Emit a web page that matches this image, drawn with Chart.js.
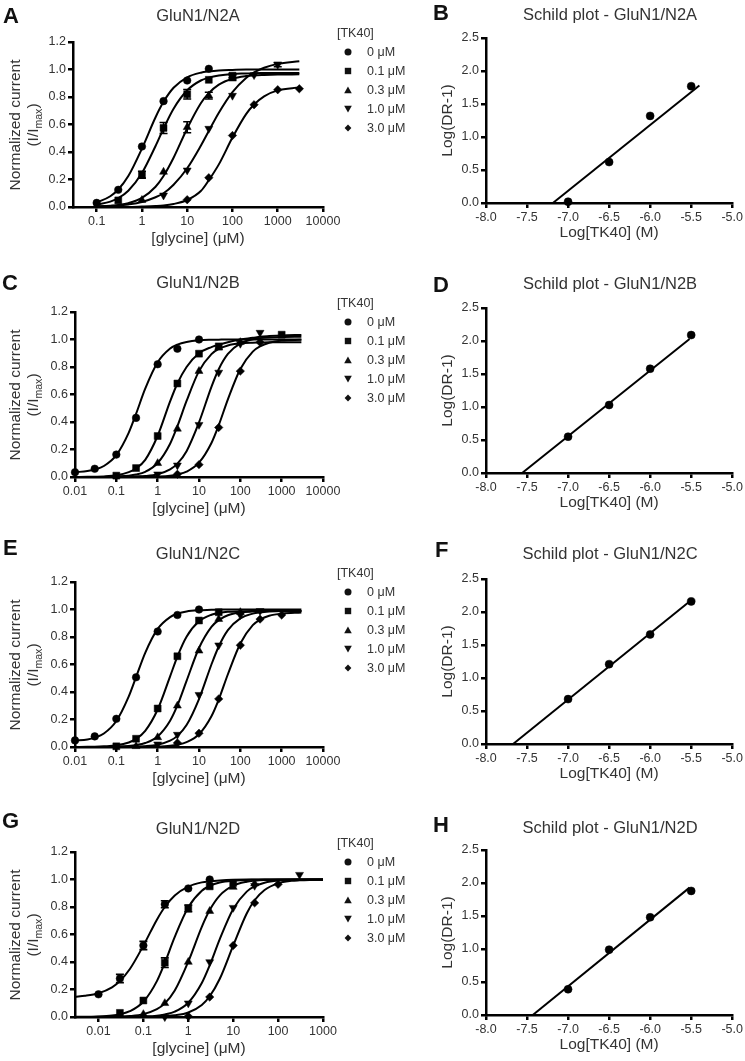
<!DOCTYPE html>
<html>
<head>
<meta charset="utf-8">
<script src="https://cdn.jsdelivr.net/npm/chart.js@4.4.1/dist/chart.umd.min.js"></script>
<style>
  body { margin: 0; background: #fff; }
  #fig { position: relative; width: 745px; height: 1061px; overflow: hidden;
         font-family: "Liberation Sans", Arial, Helvetica, sans-serif; color: #333; background: #fff; }
  #fig canvas { position: absolute; }
  .abs { position: absolute; white-space: nowrap; }
  .letter { font-weight: bold; font-size: 22px; line-height: 22px; color: #111; }
  .ptitle { font-size: 16.5px; line-height: 20px; text-align: center; width: 260px; }
  .ytitle { font-size: 15.5px; line-height: 18px; text-align: center; width: 170px; height: 36px;
            transform: rotate(-90deg); }
  .ytitle sub { font-size: 10.5px; vertical-align: -4px; line-height: 0; }
  .legend { font-size: 12.5px; line-height: 19px; }
  .legend .row { position: relative; height: 19px; }
  .legend svg { position: absolute; left: 7px; top: 5px; }
  .legend .lab { position: absolute; left: 30px; top: 0; }
</style>
</head>
<body>
<div id="fig"></div>
<script>
/*
 * TK40 vs glycine: concentration-response curves (A,C,E,G) and Schild plots (B,D,F,H).
 * Curve and point values.
 */
(function () {
  "use strict";

  // ---- shared labels / ticks ----
  var concLabels = ["0 μM", "0.1 μM", "0.3 μM", "1.0 μM", "3.0 μM"];
  var currentTicks = [0, 0.2, 0.4, 0.6, 0.8, 1.0, 1.2];
  var currentLabels = ["0.0", "0.2", "0.4", "0.6", "0.8", "1.0", "1.2"];
  var glyTicks4 = [0.1, 1, 10, 100, 1000, 10000];
  var glyLabels4 = ["0.1", "1", "10", "100", "1000", "10000"];
  var glyTicks5 = [0.01, 0.1, 1, 10, 100, 1000, 10000];
  var glyLabels5 = ["0.01", "0.1", "1", "10", "100", "1000", "10000"];
  var glyTicksG = [0.01, 0.1, 1, 10, 100, 1000];
  var glyLabelsG = ["0.01", "0.1", "1", "10", "100", "1000"];
  var schildXTicks = [-8, -7.5, -7, -6.5, -6, -5.5, -5];
  var schildXLabels = ["-8.0", "-7.5", "-7.0", "-6.5", "-6.0", "-5.5", "-5.0"];
  var schildYTicks = [0, 0.5, 1, 1.5, 2, 2.5];
  var schildYLabels = ["0.0", "0.5", "1.0", "1.5", "2.0", "2.5"];

  // ---- A: GluN1/N2A ----
  var aCurveX = [0.1, 0.2, 0.3, 0.5, 1, 2, 3, 5, 10, 20, 30, 50, 100, 200, 300, 500, 1000, 3000];
  var aCurves = [
    [0.032, 0.078, 0.127, 0.225, 0.425, 0.653, 0.765, 0.867, 0.943, 0.977, 0.986, 0.993, 0.997, 1.0, 1.0, 1.0, 1.0, 1.0],
    [0.016, 0.039, 0.064, 0.118, 0.247, 0.444, 0.571, 0.715, 0.849, 0.92, 0.941, 0.957, 0.968, 0.971, 0.973, 0.974, 0.975, 0.975],
    [0.004, 0.009, 0.015, 0.028, 0.066, 0.147, 0.225, 0.358, 0.571, 0.754, 0.828, 0.89, 0.933, 0.952, 0.957, 0.96, 0.963, 0.965],
    [0.004, 0.008, 0.011, 0.019, 0.037, 0.071, 0.10, 0.162, 0.282, 0.446, 0.553, 0.686, 0.836, 0.939, 0.979, 1.013, 1.041, 1.06],
    [0, 0, 0, 0, 0.003, 0.007, 0.011, 0.022, 0.051, 0.116, 0.195, 0.31, 0.505, 0.675, 0.745, 0.805, 0.848, 0.87]
  ];
  var aPtsX = [
    [0.1, 0.3, 1, 3, 10, 30],
    [0.3, 1, 3, 10, 30, 100],
    [1, 3, 10, 30, 100],
    [3, 10, 30, 100, 300, 1000],
    [10, 30, 100, 300, 1000, 3000]
  ];
  var aPtsY = [
    [0.03, 0.125, 0.44, 0.77, 0.92, 1.005],
    [0.048, 0.235, 0.575, 0.82, 0.925, 0.955],
    [0.05, 0.255, 0.58, 0.81, 0.94],
    [0.085, 0.267, 0.57, 0.81, 0.96, 1.035],
    [0.053, 0.213, 0.52, 0.744, 0.853, 0.86]
  ];
  var aErr = [
    [0, 0, 0, 0, 0, 0],
    [0, 0.025, 0.04, 0.035, 0, 0.015],
    [0, 0, 0.04, 0.025, 0.02],
    [0, 0, 0, 0, 0, 0.015],
    [0, 0, 0, 0, 0, 0]
  ];

  // ---- C: GluN1/N2B ----
  var cCurveX = [0.01, 0.02, 0.03, 0.05, 0.1, 0.2, 0.3, 0.5, 1, 2, 3, 5, 10, 20, 30, 50, 100, 200, 300, 500, 1000, 3000];
  var cCurves = [
    [0.035, 0.043, 0.054, 0.08, 0.159, 0.323, 0.459, 0.642, 0.834, 0.934, 0.963, 0.982, 0.994, 0.998, 0.999, 1.0, 1.0, 1.0, 1.0, 1.0, 1.0, 1.0],
    [0, 0.001, 0.002, 0.004, 0.012, 0.035, 0.062, 0.125, 0.30, 0.55, 0.68, 0.80, 0.90, 0.945, 0.962, 0.98, 1.0, 1.012, 1.02, 1.025, 1.03, 1.033],
    [0, 0, 0, 0, 0.004, 0.01, 0.018, 0.038, 0.102, 0.242, 0.369, 0.553, 0.77, 0.894, 0.931, 0.957, 0.972, 0.977, 0.978, 0.98, 0.98, 0.98],
    [0, 0, 0, 0, 0.001, 0.002, 0.004, 0.007, 0.02, 0.055, 0.097, 0.188, 0.397, 0.656, 0.784, 0.895, 0.972, 1.002, 1.01, 1.015, 1.018, 1.02],
    [0, 0, 0, 0, 0, 0, 0.001, 0.002, 0.004, 0.01, 0.019, 0.039, 0.104, 0.247, 0.376, 0.565, 0.786, 0.912, 0.95, 0.976, 0.992, 0.998]
  ];
  var cPtsX = [
    [0.01, 0.03, 0.1, 0.3, 1, 3, 10],
    [0.1, 0.3, 1, 3, 10, 30, 1000],
    [1, 3, 10, 30, 100],
    [1, 3, 10, 30, 100, 300],
    [3, 10, 30, 100, 300]
  ];
  var cPtsY = [
    [0.035, 0.06, 0.163, 0.43, 0.82, 0.933, 1.0],
    [0.01, 0.065, 0.298, 0.68, 0.897, 0.95, 1.035],
    [0.10, 0.35, 0.77, 0.94, 0.98],
    [0.02, 0.085, 0.38, 0.76, 0.97, 1.05],
    [0.02, 0.09, 0.36, 0.77, 0.98]
  ];

  // ---- E: GluN1/N2C ----
  var eCurveX = cCurveX;
  var eCurves = [
    [0.046, 0.055, 0.068, 0.098, 0.189, 0.368, 0.508, 0.685, 0.859, 0.945, 0.969, 0.986, 0.995, 0.998, 1.0, 1.0, 1.0, 1.0, 1.0, 1.0, 1.0, 1.0],
    [0, 0.001, 0.002, 0.005, 0.012, 0.033, 0.059, 0.118, 0.273, 0.514, 0.658, 0.802, 0.914, 0.962, 0.974, 0.983, 0.987, 0.99, 0.99, 0.99, 0.99, 0.99],
    [0, 0, 0, 0, 0.003, 0.008, 0.014, 0.029, 0.077, 0.191, 0.302, 0.481, 0.72, 0.874, 0.923, 0.958, 0.978, 0.985, 0.987, 0.99, 0.99, 0.99],
    [0, 0, 0, 0, 0.001, 0.002, 0.003, 0.006, 0.017, 0.046, 0.081, 0.16, 0.349, 0.60, 0.731, 0.85, 0.936, 0.97, 0.979, 0.985, 0.989, 0.99],
    [0, 0, 0, 0, 0, 0, 0.001, 0.001, 0.003, 0.009, 0.017, 0.036, 0.093, 0.224, 0.345, 0.529, 0.753, 0.886, 0.926, 0.954, 0.97, 0.978]
  ];
  var ePtsX = [
    [0.01, 0.03, 0.1, 0.3, 1, 3, 10],
    [0.1, 0.3, 1, 3, 10, 30],
    [0.3, 1, 3, 10, 30, 100],
    [1, 3, 10, 30, 100, 300],
    [3, 10, 30, 100, 300, 1000]
  ];
  var ePtsY = [
    [0.048, 0.077, 0.205, 0.507, 0.84, 0.96, 1.0],
    [0.005, 0.06, 0.28, 0.66, 0.92, 0.98],
    [0.005, 0.07, 0.30, 0.70, 0.93, 0.98],
    [0.02, 0.09, 0.38, 0.74, 0.96, 0.99],
    [0.03, 0.10, 0.35, 0.74, 0.93, 0.96]
  ];

  // ---- G: GluN1/N2D ----
  var gCurveX = [0.003, 0.005, 0.01, 0.02, 0.03, 0.05, 0.1, 0.2, 0.3, 0.5, 1, 2, 3, 5, 10, 20, 30, 50, 100, 200, 300, 500, 1000];
  var gCurves = [
    [0.147, 0.154, 0.173, 0.216, 0.262, 0.349, 0.519, 0.708, 0.80, 0.884, 0.948, 0.979, 0.987, 0.993, 0.998, 1.0, 1.0, 1.0, 1.0, 1.0, 1.0, 1.0, 1.0],
    [0.001, 0.001, 0.004, 0.011, 0.020, 0.042, 0.111, 0.261, 0.394, 0.583, 0.798, 0.918, 0.953, 0.978, 0.992, 0.997, 0.998, 1.0, 1.0, 1.0, 1.0, 1.0, 1.0],
    [0, 0, 0.001, 0.002, 0.003, 0.007, 0.021, 0.057, 0.099, 0.193, 0.403, 0.656, 0.778, 0.883, 0.955, 0.984, 0.991, 0.996, 0.999, 1.0, 1.0, 1.0, 1.0],
    [0, 0, 0, 0, 0, 0.001, 0.004, 0.010, 0.019, 0.039, 0.104, 0.247, 0.376, 0.565, 0.786, 0.912, 0.95, 0.976, 0.992, 0.997, 0.998, 1.0, 1.0],
    [0, 0, 0, 0, 0, 0, 0.001, 0.003, 0.006, 0.012, 0.033, 0.088, 0.151, 0.276, 0.519, 0.753, 0.849, 0.924, 0.972, 0.99, 0.994, 0.997, 0.999]
  ];
  var gPtsX = [
    [0.01, 0.03, 0.1, 0.3, 1, 3],
    [0.03, 0.1, 0.3, 1, 3, 10],
    [0.1, 0.3, 1, 3, 10, 30],
    [0.3, 1, 3, 10, 30, 300],
    [1, 3, 10, 30, 100]
  ];
  var gPtsY = [
    [0.165, 0.28, 0.52, 0.82, 0.935, 1.0],
    [0.03, 0.12, 0.395, 0.79, 0.95, 0.975],
    [0.02, 0.10, 0.40, 0.77, 0.945, 0.97],
    [0.0, 0.10, 0.40, 0.795, 0.955, 1.035],
    [0.005, 0.145, 0.52, 0.83, 0.965]
  ];
  var gErr = [
    [0, 0.03, 0.03, 0.025, 0, 0],
    [0, 0, 0.035, 0.025, 0, 0],
    [0, 0, 0, 0, 0, 0],
    [0, 0, 0, 0, 0, 0],
    [0, 0, 0, 0, 0]
  ];

  // ---- Schild plots (B, D, F, H) ----
  var schildX = [-7.0, -6.5, -6.0, -5.5];
  var schildB = [0.02, 0.62, 1.32, 1.77];
  var schildD = [0.55, 1.03, 1.58, 2.09];
  var schildF = [0.68, 1.21, 1.66, 2.16];
  var schildH = [0.39, 0.99, 1.48, 1.88];
  // regression line end points as drawn
  var fitB = { x: [-7.185, -5.40], y: [0, 1.78] };
  var fitD = { x: [-7.56, -5.52], y: [0, 2.03] };
  var fitF = { x: [-7.67, -5.52], y: [0, 2.16] };
  var fitH = { x: [-7.43, -5.52], y: [0, 1.93] };

  // ---- styling ----
  var FONT = '"Liberation Sans", Arial, Helvetica, sans-serif';
  var TEXT = "#333";
  var TICK_SIZE = 12.5;
  var pointStyles = ["circle", "rect", "triangle", "triangle", "rectRot"];
  var pointRot = [0, 0, 0, 180, 0];
  var pointSize = [3.8, 4.9, 4.6, 4.6, 4.2];
  Chart.defaults.font.family = FONT;
  Chart.defaults.color = TEXT;

  var axisGrid = { display: true, drawOnChartArea: false, drawTicks: true, tickLength: 5, color: "#000", lineWidth: 2.5 };
  var axisBorder = { display: true, color: "#000", width: 2.5 };

  var fig = document.getElementById("fig");

  function el(tag, cls, left, top, html) {
    var d = document.createElement(tag);
    if (cls) d.className = cls;
    d.style.left = left + "px";
    d.style.top = top + "px";
    if (html != null) d.innerHTML = html;
    fig.appendChild(d);
    return d;
  }
  function addCanvas(left, top, w, h) {
    var c = document.createElement("canvas");
    c.width = w; c.height = h;
    c.style.left = left + "px"; c.style.top = top + "px";
    c.style.width = w + "px"; c.style.height = h + "px";
    fig.appendChild(c);
    return c;
  }
  function fixedTicks(vals) {
    return function (s) { s.ticks = vals.map(function (v) { return { value: v }; }); };
  }
  function labelsFrom(labels) {
    return function (v, i) { return labels[i]; };
  }

  // Error bars drawn from a dataset's "errors" array (same length as data).
  var errorBars = {
    id: "errorBars",
    afterDatasetsDraw: function (chart) {
      var ctx = chart.ctx, ys = chart.scales.y;
      chart.data.datasets.forEach(function (ds, i) {
        if (!ds.errors) return;
        var meta = chart.getDatasetMeta(i);
        meta.data.forEach(function (pt, j) {
          var e = ds.errors[j];
          if (!e) return;
          var v = ds.data[j].y;
          var y1 = ys.getPixelForValue(v + e), y2 = ys.getPixelForValue(v - e);
          ctx.save();
          ctx.strokeStyle = "#000";
          ctx.lineWidth = 1.6;
          ctx.beginPath();
          ctx.moveTo(pt.x, y1); ctx.lineTo(pt.x, y2);
          ctx.moveTo(pt.x - 4, y1); ctx.lineTo(pt.x + 4, y1);
          ctx.moveTo(pt.x - 4, y2); ctx.lineTo(pt.x + 4, y2);
          ctx.stroke();
          ctx.restore();
        });
      });
    }
  };

  function curveSets(xs, curves) {
    return curves.map(function (ys) {
      return {
        data: xs.map(function (x, i) { return { x: x, y: ys[i] }; }),
        borderColor: "#000", borderWidth: 2, pointRadius: 0, fill: false,
        cubicInterpolationMode: "monotone", clip: false
      };
    });
  }
  function markerSets(pxs, pys, errs) {
    return pxs.map(function (xs, k) {
      return {
        data: xs.map(function (x, i) { return { x: x, y: pys[k][i] }; }),
        showLine: false, clip: false,
        pointStyle: pointStyles[k], pointRotation: pointRot[k], pointRadius: pointSize[k],
        pointBackgroundColor: "#000", pointBorderColor: "#000", pointBorderWidth: 0.5,
        errors: errs ? errs[k] : null
      };
    });
  }

  var markerSvg = [
    '<circle cx="4" cy="4" r="3.5"/>',
    '<rect x="0.8" y="0.8" width="6.4" height="6.4"/>',
    '<polygon points="4,0.6 7.8,7.3 0.2,7.3"/>',
    '<polygon points="0.2,0.7 7.8,0.7 4,7.4"/>',
    '<polygon points="4,0.4 7.4,4 4,7.6 0.6,4"/>'
  ];
  function addLegend(rowTop) {
    var box = el("div", "abs legend", 337, rowTop + 24);
    var t = document.createElement("div");
    t.className = "row";
    t.textContent = "[TK40]";
    box.appendChild(t);
    concLabels.forEach(function (lab, i) {
      var r = document.createElement("div");
      r.className = "row";
      r.innerHTML = '<svg width="8" height="8" viewBox="0 0 8 8" fill="#111">' + markerSvg[i] + '</svg>' +
        '<span class="lab">' + lab + '</span>';
      box.appendChild(r);
    });
  }

  // ---- concentration-response panel ----
  function doseChart(p) {
    var top = p.row;
    var cv = addCanvas(0, top, 345, 252);
    new Chart(cv, {
      type: "line",
      data: { datasets: curveSets(p.cx, p.curves).concat(markerSets(p.px, p.py, p.err)) },
      plugins: [errorBars],
      options: {
        responsive: false, animation: false, events: [],
        layout: { padding: { top: 42, right: 22, left: 0, bottom: 0 } },
        plugins: { legend: { display: false }, tooltip: { enabled: false } },
        scales: {
          x: {
            type: "logarithmic", min: p.xmin, max: p.xmax,
            afterBuildTicks: fixedTicks(p.xticks),
            afterFit: function (s) { s.height = 45; },
            ticks: { autoSkip: false, maxRotation: 0, padding: 2, font: { size: TICK_SIZE }, color: TEXT,
                     callback: labelsFrom(p.xlabels) },
            grid: axisGrid, border: axisBorder,
            title: { display: true, text: "[glycine] (μM)", font: { size: 15.5 }, color: TEXT,
                     padding: { top: 0, bottom: 4 } }
          },
          y: {
            type: "linear", min: 0, max: 1.2,
            afterBuildTicks: fixedTicks(currentTicks),
            afterFit: function (s) { s.width = p.yw; },
            ticks: { autoSkip: false, padding: 2, font: { size: TICK_SIZE }, color: TEXT,
                     callback: labelsFrom(currentLabels) },
            grid: axisGrid, border: axisBorder
          }
        }
      }
    });
    el("div", "abs ytitle", 24 - 85, top + 124.5 - 18, "Normalized current<br>(I/I<sub>max</sub>)");
    el("div", "abs ptitle", 198 - 130, p.titleY - 10, p.title);
    el("div", "abs letter", p.letterX, p.letterY - 3, p.letter);
    addLegend(top);
  }

  // ---- Schild panel ----
  function schildChart(p) {
    var top = p.row;
    var cv = addCanvas(425, top, 320, 246);
    new Chart(cv, {
      type: "line",
      data: {
        datasets: [
          {
            data: p.fit.x.map(function (x, i) { return { x: x, y: p.fit.y[i] }; }),
            borderColor: "#000", borderWidth: 2, pointRadius: 0, fill: false, clip: false
          },
          {
            data: schildX.map(function (x, i) { return { x: x, y: p.ys[i] }; }),
            showLine: false, clip: false, pointStyle: "circle", pointRadius: 4,
            pointBackgroundColor: "#000", pointBorderColor: "#000", pointBorderWidth: 0.5
          }
        ]
      },
      options: {
        responsive: false, animation: false, events: [],
        layout: { padding: { top: 38, right: 11, left: 0, bottom: 0 } },
        plugins: { legend: { display: false }, tooltip: { enabled: false } },
        scales: {
          x: {
            type: "linear", min: -8, max: -5,
            afterBuildTicks: fixedTicks(schildXTicks),
            afterFit: function (s) { s.height = 43; },
            ticks: { autoSkip: false, maxRotation: 0, padding: 2, font: { size: TICK_SIZE }, color: TEXT,
                     callback: labelsFrom(schildXLabels) },
            grid: axisGrid, border: axisBorder,
            title: { display: true, text: "Log[TK40] (M)", font: { size: 15.5 }, color: TEXT,
                     padding: { top: 0, bottom: 4 } }
          },
          y: {
            type: "linear", min: 0, max: 2.5,
            afterBuildTicks: fixedTicks(schildYTicks),
            afterFit: function (s) { s.width = 61; },
            ticks: { autoSkip: false, padding: 2, font: { size: TICK_SIZE }, color: TEXT,
                     callback: labelsFrom(schildYLabels) },
            grid: axisGrid, border: axisBorder,
            title: { display: true, text: "Log(DR-1)", font: { size: 15.5 }, color: TEXT,
                     padding: { top: 13, bottom: 0 } }
          }
        }
      }
    });
    el("div", "abs ptitle", 610 - 130, p.titleY - 10, p.title);
    el("div", "abs letter", p.letterX, p.letterY - 3, p.letter);
  }

  var dosePanels = [
    { row: 0, title: "GluN1/N2A", titleY: 15, letter: "A", letterX: 3, letterY: 8, yw: 73,
      cx: aCurveX, curves: aCurves, px: aPtsX, py: aPtsY, err: aErr,
      xmin: 0.03, xmax: 10000, xticks: glyTicks4, xlabels: glyLabels4 },
    { row: 270, title: "GluN1/N2B", titleY: 282, letter: "C", letterX: 2, letterY: 275, yw: 75,
      cx: cCurveX, curves: cCurves, px: cPtsX, py: cPtsY, err: null,
      xmin: 0.01, xmax: 10000, xticks: glyTicks5, xlabels: glyLabels5 },
    { row: 540, title: "GluN1/N2C", titleY: 553, letter: "E", letterX: 3, letterY: 540, yw: 75,
      cx: eCurveX, curves: eCurves, px: ePtsX, py: ePtsY, err: null,
      xmin: 0.01, xmax: 10000, xticks: glyTicks5, xlabels: glyLabels5 },
    { row: 810, title: "GluN1/N2D", titleY: 828, letter: "G", letterX: 2, letterY: 813, yw: 75,
      cx: gCurveX, curves: gCurves, px: gPtsX, py: gPtsY, err: gErr,
      xmin: 0.003, xmax: 1000, xticks: glyTicksG, xlabels: glyLabelsG }
  ];
  var schildPanels = [
    { row: 0, title: "Schild plot - GluN1/N2A", titleY: 14, letter: "B", letterX: 433, letterY: 5, ys: schildB, fit: fitB },
    { row: 270, title: "Schild plot - GluN1/N2B", titleY: 283, letter: "D", letterX: 433, letterY: 277, ys: schildD, fit: fitD },
    { row: 541, title: "Schild plot - GluN1/N2C", titleY: 553, letter: "F", letterX: 435, letterY: 542, ys: schildF, fit: fitF },
    { row: 812, title: "Schild plot - GluN1/N2D", titleY: 827, letter: "H", letterX: 433, letterY: 817, ys: schildH, fit: fitH }
  ];

  dosePanels.forEach(doseChart);
  schildPanels.forEach(schildChart);
})();
</script>
</body>
</html>
